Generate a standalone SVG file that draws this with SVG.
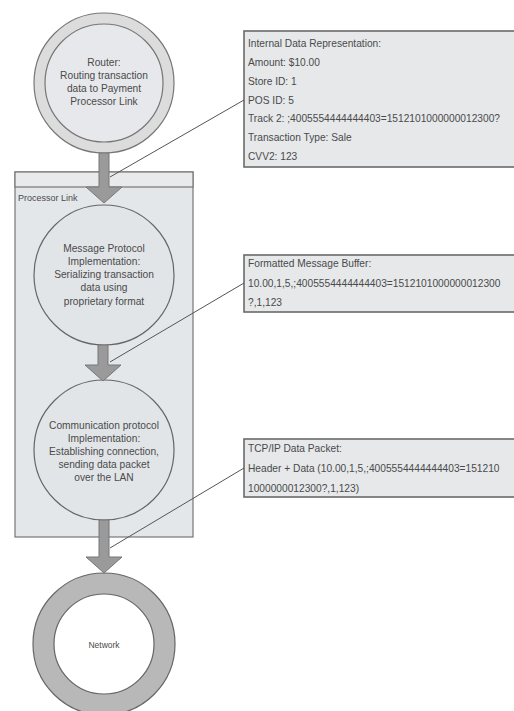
<svg xmlns="http://www.w3.org/2000/svg" width="514" height="711" viewBox="0 0 514 711">
  <style>
    text { font-family: "Liberation Sans", Arial, sans-serif; font-size: 10.2px; fill: #4a4a4a; }
    .c { text-anchor: middle; }
    .panel { fill: #e4e7ea; stroke: #777; stroke-width: 1.2; }
    .band { fill: #e9eaec; stroke: #777; stroke-width: 1.2; }
    .node { fill: #e2e5e8; stroke: #666; stroke-width: 1.2; }
    .ring { fill: #dcdcdc; stroke: #777; stroke-width: 1.2; }
    .ringdark { fill: #b8b8b8; stroke: #666; stroke-width: 1.2; }
    .inner { fill: #e6e8eb; stroke: #777; stroke-width: 1.2; }
    .hole { fill: #ffffff; stroke: #666; stroke-width: 1.2; }
    .data { fill: #e6e8ea; stroke: #6a6a6a; stroke-width: 1.6; }
    .flow { fill: #9a9a9a; stroke: #777; stroke-width: 1; }
    .leader { stroke: #555; stroke-width: 1; fill: none; }
  </style>

  <!-- Processor Link container -->
  <g id="processor-link">
    <rect class="panel" x="15" y="172" width="178" height="365"/>
    <rect class="band" x="15" y="172" width="178" height="15"/>
    <text x="18" y="201" style="font-size:9px">Processor Link</text>
  </g>

  <!-- Router -->
  <g id="router">
    <circle class="ring" cx="104" cy="83" r="70"/>
    <circle class="inner" cx="104" cy="83" r="59"/>
    <text class="c" x="104" y="66">Router:</text>
    <text class="c" x="104" y="79">Routing transaction</text>
    <text class="c" x="104" y="92">data to Payment</text>
    <text class="c" x="104" y="105">Processor Link</text>
  </g>

  <!-- Message protocol -->
  <g id="message-protocol">
    <circle class="node" cx="104" cy="275" r="70"/>
    <text class="c" x="104" y="252">Message Protocol</text>
    <text class="c" x="104" y="265">Implementation:</text>
    <text class="c" x="104" y="278">Serializing transaction</text>
    <text class="c" x="104" y="291">data using</text>
    <text class="c" x="104" y="305">proprietary format</text>
  </g>

  <!-- Communication protocol -->
  <g id="communication-protocol">
    <circle class="node" cx="104" cy="450" r="70"/>
    <text class="c" x="104" y="429">Communication protocol</text>
    <text class="c" x="104" y="442">Implementation:</text>
    <text class="c" x="104" y="455">Establishing connection,</text>
    <text class="c" x="104" y="468">sending data packet</text>
    <text class="c" x="104" y="481">over the LAN</text>
  </g>

  <!-- Network -->
  <g id="network">
    <circle class="ringdark" cx="104" cy="644" r="71"/>
    <circle class="hole" cx="104" cy="644" r="50"/>
    <text class="c" x="104" y="648" style="font-size:8.5px">Network</text>
  </g>

  <!-- Data callouts -->
  <g id="internal-data">
    <rect class="data" x="244" y="31" width="290" height="136"/>
    <text x="248" y="47">Internal Data Representation:</text>
    <text x="248" y="66">Amount: $10.00</text>
    <text x="248" y="85">Store ID: 1</text>
    <text x="248" y="104">POS ID: 5</text>
    <text x="248" y="122">Track 2: ;4005554444444403=1512101000000012300?</text>
    <text x="248" y="141">Transaction Type: Sale</text>
    <text x="248" y="160">CVV2: 123</text>
  </g>

  <g id="message-buffer">
    <rect class="data" x="244" y="255" width="290" height="57"/>
    <text x="248" y="267">Formatted Message Buffer:</text>
    <text x="248" y="287">10.00,1,5,;4005554444444403=1512101000000012300</text>
    <text x="248" y="306">?,1,123</text>
  </g>

  <g id="tcpip-packet">
    <rect class="data" x="244" y="439" width="290" height="58"/>
    <text x="248" y="452">TCP/IP Data Packet:</text>
    <text x="248" y="472">Header + Data (10.00,1,5,;4005554444444403=151210</text>
    <text x="248" y="492">1000000012300?,1,123)</text>
  </g>

  <!-- Connectors -->
  <g id="connectors">
    <polygon class="flow" points="99,153 109,153 109,187 122,187 104,203 86,187 99,187"/>
    <polygon class="flow" points="98,345 108,345 108,365 121,365 103,381 85,365 98,365"/>
    <polygon class="flow" points="99,520 109,520 109,557 122,557 104,573 86,557 99,557"/>
    <line class="leader" x1="244" y1="100" x2="110" y2="177"/>
    <line class="leader" x1="244" y1="283" x2="110" y2="362"/>
    <line class="leader" x1="244" y1="468" x2="110" y2="548"/>
  </g>
</svg>
